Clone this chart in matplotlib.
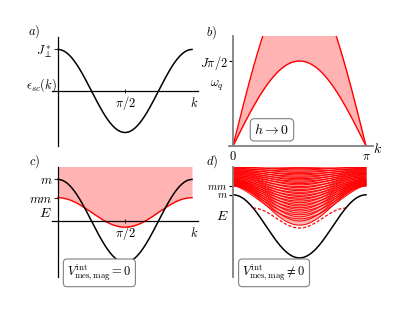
import numpy as np
import matplotlib
matplotlib.use("Agg")
import matplotlib.pyplot as plt

plt.rcParams['mathtext.fontset'] = 'cm'
plt.rcParams['font.family'] = 'serif'
plt.rcParams['font.serif'] = ['DejaVu Serif']

# ---- data (schematic curve parameters) ----
k_max = np.pi
# panel a: single-particle band  eps = amp*cos(2k)
a_amp = 1.0
# panel c: magnon band (black) and meson band (red)
c_black_amp = 1.0
c_red_edge = 0.56
c_red_center = -0.15
# panel b: continuum, lower and upper edges (units of J*pi/2)
b_lower_amp = 1.0
b_upper_amp = 2.0
# panel d: black magnon band edge / center, dashed bound state
d_black_edge = 0.63
d_black_center = -0.89
d_dash_kmin = 0.47
d_dash_kmax = 2.67
d_dash_edge = 0.31
d_dash_center = -0.17
# panel d: continuum curves, family A (sin^2 shape) and family B (sin shape)
famA_edge = [0.84, 0.86, 0.88, 0.90, 0.92, 0.94, 0.96, 0.98, 1.00, 1.03, 1.06, 1.09, 1.12, 1.15, 1.18, 1.21, 1.24, 1.27, 1.30, 1.33]
famA_center = [-0.10, 0.00, 0.10, 0.19, 0.28, 0.36, 0.44, 0.52, 0.59, 0.66, 0.73, 0.80, 0.87, 0.93, 0.99, 1.05, 1.11, 1.17, 1.23, 1.29]
famB_edge = [0.85, 0.87, 0.89, 0.91, 0.93, 0.95, 0.97, 0.99, 1.02, 1.05, 1.08, 1.11, 1.14, 1.17, 1.20, 1.23, 1.26, 1.29, 1.32]
famB_center = [0.05, 0.15, 0.24, 0.32, 0.40, 0.48, 0.55, 0.62, 0.69, 0.76, 0.83, 0.90, 0.96, 1.02, 1.08, 1.14, 1.20, 1.26, 1.32]

red = '#ff0000'
pink = '#ffb3b3'
gray = '#808080'
fs = 9

W, H = 415, 311
fig = plt.figure(figsize=(W / 100, H / 100), dpi=100)


def ax_px(x0, x1, y0, y1):
    return fig.add_axes([x0 / W, 1 - y1 / H, (x1 - x0) / W, (y1 - y0) / H])


k = np.linspace(0, k_max, 400)
pad = 0.14
box = dict(boxstyle='round,pad=0.3', fc='white', ec=gray, lw=0.8)

# ---------------- panel a ----------------
ax = ax_px(52, 198, 37, 146)
ax.set_xlim(-pad, k_max + pad)
ax.set_ylim(-1.325, 1.30)
ax.plot(k, a_amp * np.cos(2 * k), color='black', lw=1.1)
for s in ['top', 'right']:
    ax.spines[s].set_visible(False)
ax.spines['left'].set_position(('data', 0))
ax.spines['bottom'].set_position(('data', 0))
for s in ['left', 'bottom']:
    ax.spines[s].set_linewidth(0.9)
ax.set_xticks([np.pi / 2])
ax.set_xticklabels([r'$\pi/2$'], fontsize=fs)
ax.tick_params(axis='x', direction='inout', length=3, width=0.6, pad=1)
ax.set_yticks([1.0])
ax.set_yticklabels([r'$J_\perp^*$'], fontsize=fs)
ax.tick_params(axis='y', direction='out', length=3, width=0.6, pad=1)
ax.text(k_max + 0.05, -0.12, r'$k$', fontsize=fs, ha='center', va='top')
ax.text(-0.38, 0.15, r'$\epsilon_{sc}(k)$', fontsize=fs, ha='center', va='center')
ax.text(-0.55, 1.42, r'$a)$', fontsize=fs, ha='center', va='center')

# ---------------- panel c ----------------
ax = ax_px(52, 198, 167, 277)
ax.set_xlim(-pad, k_max + pad)
ax.set_ylim(-1.35, 1.30)
redc = c_red_center + (c_red_edge - c_red_center) * (1 + np.cos(2 * k)) / 2
ax.fill_between(k, redc, 2.0, color=pink, lw=0)
ax.plot(k, redc, color=red, lw=1.0)
ax.plot(k, c_black_amp * np.cos(2 * k), color='black', lw=1.1)
for s in ['top', 'right']:
    ax.spines[s].set_visible(False)
ax.spines['left'].set_position(('data', 0))
ax.spines['bottom'].set_position(('data', 0))
for s in ['left', 'bottom']:
    ax.spines[s].set_linewidth(0.9)
ax.set_xticks([np.pi / 2])
ax.set_xticklabels([r'$\pi/2$'], fontsize=fs)
ax.tick_params(axis='x', direction='inout', length=3, width=0.6, pad=1)
ax.set_yticks([c_black_amp, c_red_edge])
ax.set_yticklabels([r'$m$', r'$mm$'], fontsize=fs)
ax.tick_params(axis='y', direction='out', length=3, width=0.6, pad=1)
ax.text(k_max + 0.05, -0.12, r'$k$', fontsize=fs, ha='center', va='top')
ax.text(-0.30, 0.18, r'$E$', fontsize=fs + 1, ha='center', va='center')
ax.text(-0.55, 1.42, r'$c)$', fontsize=fs, ha='center', va='center')
ax.text(0.97, -1.25, r'$V^{\rm int}_{\rm mes,mag}=0$', fontsize=fs, ha='center', va='center', bbox=box)

# ---------------- panel b ----------------
ax = ax_px(233, 373, 36, 146)
ax.set_xlim(0, k_max * 140 / 133)
ax.set_ylim(0, 1.294)
lo = b_lower_amp * np.sin(k)
up = b_upper_amp * np.sin(k)
ax.fill_between(k, lo, up, color=pink, lw=0)
ax.plot(k, lo, color=red, lw=1.0)
ax.plot(k, up, color=red, lw=1.0)
for s in ['top', 'right']:
    ax.spines[s].set_visible(False)
for s in ['left', 'bottom']:
    ax.spines[s].set_color(gray)
    ax.spines[s].set_linewidth(1.3)
ax.spines['bottom'].set_bounds(-0.1, k_max * 140 / 133)
ax.set_xticks([0, np.pi])
ax.set_xticklabels([r'$0$', r'$\pi$'], fontsize=fs)
ax.tick_params(axis='x', length=0, pad=3)
ax.set_yticks([1.0])
ax.set_yticklabels([r'$J\pi/2$'], fontsize=fs)
ax.tick_params(axis='y', direction='out', length=3, width=0.8, color='black', pad=1)
ax.text(k_max * 1.09, -0.03, r'$k$', fontsize=fs + 1, ha='center', va='center')
ax.text(-0.37, 0.71, r'$\omega_q$', fontsize=fs, ha='center', va='center')
ax.text(-0.50, 1.33, r'$b)$', fontsize=fs, ha='center', va='center')
ax.text(0.92, 0.19, r'$h\to 0$', fontsize=fs + 1, ha='center', va='center', bbox=box)

# ---------------- panel d ----------------
ax = ax_px(233, 373, 167, 277)
ax.set_xlim(0, k_max * 140 / 133)
ax.set_ylim(-1.35, 1.30)
s2 = np.sin(k) ** 2
s1 = np.sin(k)
lowest = famA_center[0] + (famA_edge[0] - famA_center[0]) * (1 - s2)
ax.fill_between(k, lowest, 2.0, color=pink, lw=0)
for e, c in zip(famA_edge, famA_center):
    ax.plot(k, c + (e - c) * (1 - s2), color=red, lw=0.7)
for e, c in zip(famB_edge, famB_center):
    ax.plot(k, c + (e - c) * (1 - s1 ** 1.5), color=red, lw=0.7)
kd = np.linspace(d_dash_kmin, d_dash_kmax, 200)
ud = np.sin((kd - d_dash_kmin) / (d_dash_kmax - d_dash_kmin) * np.pi) ** 2
ax.plot(kd, d_dash_edge + (d_dash_center - d_dash_edge) * ud, color=red, lw=0.9, ls=(0, (2.5, 1.5)))
ax.plot(k, d_black_center + (d_black_edge - d_black_center) * (1 + np.cos(2 * k)) / 2,
        color='black', lw=1.1)
for s in ['top', 'right', 'bottom']:
    ax.spines[s].set_visible(False)
ax.spines['left'].set_color(gray)
ax.spines['left'].set_linewidth(1.3)
ax.set_xticks([])
ax.set_yticks([famA_edge[0], d_black_edge])
ax.set_yticklabels([r'$mm$', r'$m$'], fontsize=fs - 1.5)
ax.tick_params(axis='y', direction='out', length=3, width=0.8, color='black', pad=1)
ax.text(-0.25, 0.12, r'$E$', fontsize=fs + 1, ha='center', va='center')
ax.text(-0.50, 1.42, r'$d)$', fontsize=fs, ha='center', va='center')
ax.text(0.97, -1.25, r'$V^{\rm int}_{\rm mes,mag}\neq 0$', fontsize=fs, ha='center', va='center', bbox=box)

fig.savefig('out.png', dpi=100)
